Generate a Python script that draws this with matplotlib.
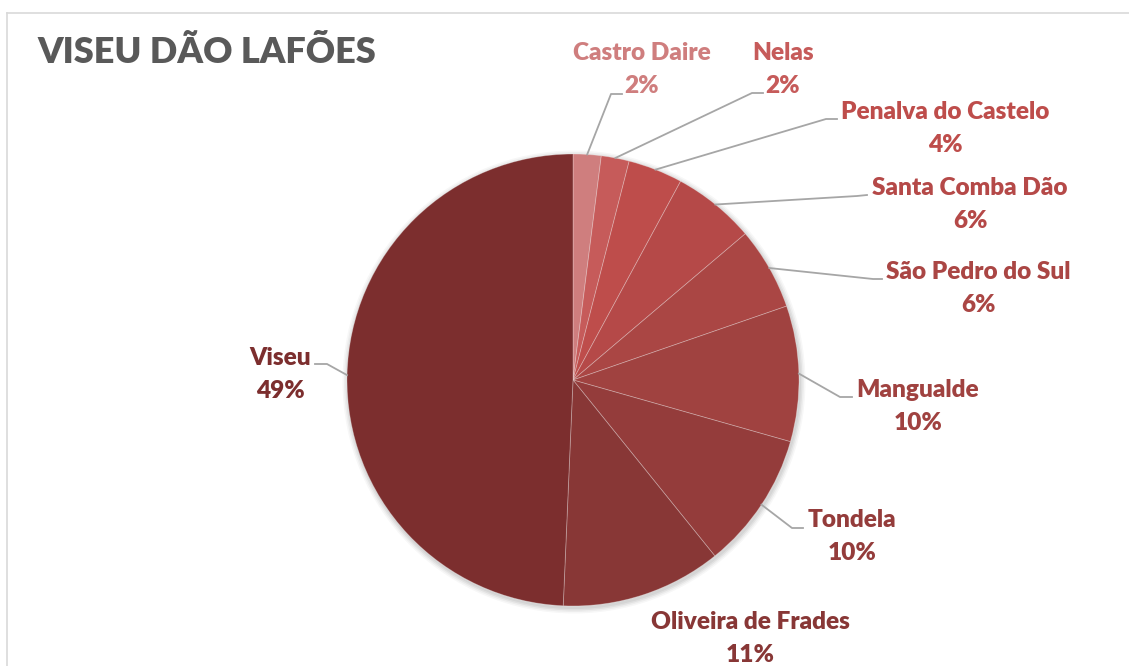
import matplotlib
matplotlib.use("Agg")
import matplotlib.pyplot as plt
import numpy as np
from matplotlib.patches import Circle

municipios = ["Castro Daire", "Nelas", "Penalva do Castelo", "Santa Comba Dão",
              "São Pedro do Sul", "Mangualde", "Tondela", "Oliveira de Frades", "Viseu"]
quota = [2.0, 2.0, 3.9, 5.9, 5.9, 9.7, 9.8, 11.49, 49.31]
cores = ["#CF7E7E", "#C65B5A", "#BE4D4B", "#B54948", "#AA4644",
         "#A04240", "#943C3B", "#883736", "#7C2E2E"]

W, H = 1129, 666
CX, CY, R = 573, 380, 226     # image px, y down
FONT = "Lato"
WGT = "heavy"

# label layout (image px): name-line centre, elbow point, line end at text
LAYOUT = [
    ((642, 53), (611, 94), (622, 94)),
    ((783, 53), (752, 93), (763, 93)),
    ((945, 112), (826, 119), (837, 119)),
    ((970, 188), (857, 196), (867, 195)),
    ((978, 272), (873, 279), (882, 279)),
    ((918, 390), (840, 397), (852, 397)),
    ((852, 520), (792, 528), (803, 528)),
    ((750, 622), None, None),
    ((280, 358), (327, 364), (315, 364)),
]

fy = lambda y: H - y

fig = plt.figure(figsize=(W / 100, H / 100), dpi=100)
ax = fig.add_axes([0, 0, 1, 1])

# soft shadow
for i, a in enumerate([0.05, 0.05, 0.04, 0.03]):
    ax.add_patch(Circle((CX + 1, fy(CY) - 2), R + 1 + i * 1.5, color="#000000",
                        alpha=a, lw=0, zorder=0))

wedges, _ = ax.pie(quota, colors=cores, startangle=90, counterclock=False,
                   center=(CX, fy(CY)), radius=R,
                   wedgeprops=dict(linewidth=0.6, edgecolor=(1, 1, 1, 0.3)))

for w, nome, q, cor, (txt, elbow, end) in zip(wedges, municipios, quota, cores, LAYOUT):
    ang = np.deg2rad((w.theta1 + w.theta2) / 2)
    ex, ey = CX + R * np.cos(ang), fy(CY) + R * np.sin(ang)
    if elbow is not None:
        ax.plot([ex, elbow[0], end[0]], [ey, fy(elbow[1]), fy(end[1])],
                color="#A6A6A6", lw=1.3, zorder=3)
    ax.text(txt[0], fy(txt[1]), nome, color=cor, fontsize=17.6, fontweight=WGT,
            family=FONT, ha="center", va="center")
    ax.text(txt[0], fy(txt[1] + 33), f"{q:.0f}%", color=cor, fontsize=17.6,
            fontweight=WGT, family=FONT, ha="center", va="center")

ax.text(37, fy(63), "VISEU DÃO LAFÕES", color="#595959", fontsize=26,
        fontweight=WGT, family=FONT, ha="left", va="baseline")

# chart frame (top and left edges visible)
ax.plot([6.5, W], [fy(12.5), fy(12.5)], color="#D9D9D9", lw=1.2)
ax.plot([6.5, 6.5], [fy(12.5), 0], color="#D9D9D9", lw=1.2)

ax.set_xlim(0, W)
ax.set_ylim(0, H)
ax.set_aspect("auto")
ax.axis("off")
fig.savefig("out.png", dpi=100)
